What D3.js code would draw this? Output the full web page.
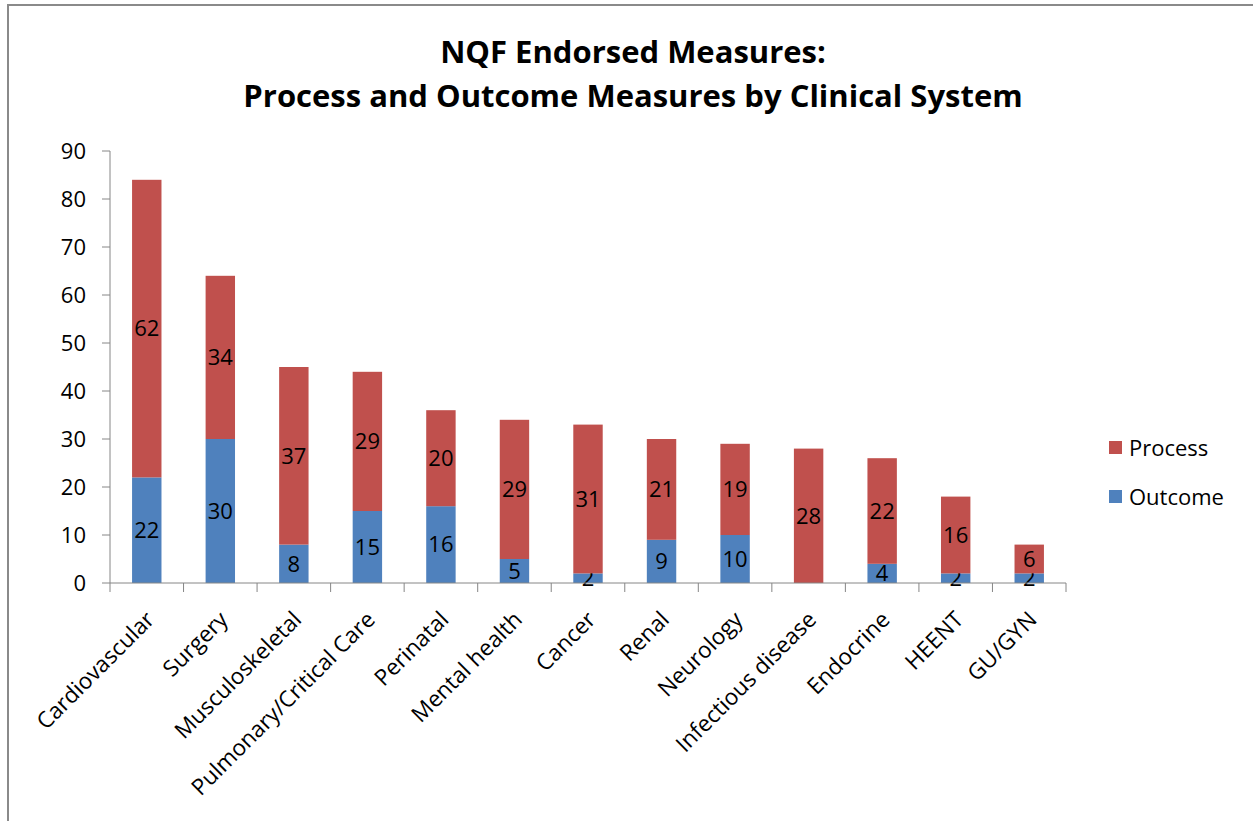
<!DOCTYPE html>
<html lang="en">
<head>
    <meta charset="UTF-8">
    <title>NQF Endorsed Measures</title>
    <script src="https://cdn.jsdelivr.net/npm/d3@7"></script>
    <style>
        body { margin: 0; background: #fff; }
        text { font-family: "Open Sans", sans-serif; fill: #000; }
        .title { font-size: 31px; font-weight: bold; }
        .tick-label { font-size: 22px; }
        .cat-label { font-size: 22.5px; }
        .value-label { font-size: 22px; }
        .legend-text { font-size: 22px; }
    </style>
</head>
<body>
    <svg width="1253" height="821" id="chart"></svg>
    <script>
        const categories = [
            "Cardiovascular", "Surgery", "Musculoskeletal", "Pulmonary/Critical Care",
            "Perinatal", "Mental health", "Cancer", "Renal", "Neurology",
            "Infectious disease", "Endocrine", "HEENT", "GU/GYN"
        ];
        const outcome = [22, 30, 8, 15, 16, 5, 2, 9, 10, 0, 4, 2, 2];
        const process = [62, 34, 37, 29, 20, 29, 31, 21, 19, 28, 22, 16, 6];
        const yTicks = [0, 10, 20, 30, 40, 50, 60, 70, 80, 90];
        const seriesNames = ["Outcome", "Process"];
        const colors = {Outcome: "#4f81bd", Process: "#c0504d"};

        const svg = d3.select("#chart");
        const margin = {left: 110, top: 151, right: 1066, bottom: 583};

        // outer frame (cut off on the right and bottom)
        svg.append("rect")
            .attr("x", 8).attr("y", 5)
            .attr("width", 1300).attr("height", 900)
            .attr("fill", "none")
            .attr("stroke", "#8a8a8a")
            .attr("stroke-width", 2);

        svg.append("text").attr("class", "title")
            .attr("x", 633).attr("y", 63)
            .attr("text-anchor", "middle")
            .text("NQF Endorsed Measures:");
        svg.append("text").attr("class", "title")
            .attr("x", 633).attr("y", 107)
            .attr("text-anchor", "middle")
            .text("Process and Outcome Measures by Clinical System");

        const x = d3.scaleBand()
            .domain(categories)
            .range([margin.left, margin.right])
            .paddingInner(0.6)
            .paddingOuter(0.3);
        const bandStep = x.step();

        const y = d3.scaleLinear()
            .domain([0, 90])
            .range([margin.bottom, margin.top]);

        const rows = categories.map((c, i) => ({cat: c, Outcome: outcome[i], Process: process[i]}));
        const stacked = d3.stack().keys(seriesNames)(rows);

        const layers = svg.append("g").selectAll("g")
            .data(stacked)
            .enter().append("g")
            .attr("fill", d => colors[d.key]);

        layers.selectAll("rect")
            .data(d => d)
            .enter().append("rect")
            .attr("x", d => x(d.data.cat))
            .attr("width", x.bandwidth())
            .attr("y", d => y(d[1]))
            .attr("height", d => y(d[0]) - y(d[1]));

        // axes
        const axisColor = "#868686";
        const yAxis = svg.append("g");
        yAxis.append("line")
            .attr("x1", margin.left).attr("x2", margin.left)
            .attr("y1", margin.top).attr("y2", margin.bottom)
            .attr("stroke", axisColor);
        yAxis.selectAll(".ytick")
            .data(yTicks)
            .enter().append("line")
            .attr("x1", margin.left - 8).attr("x2", margin.left)
            .attr("y1", d => y(d)).attr("y2", d => y(d))
            .attr("stroke", axisColor);
        yAxis.selectAll(".ylabel")
            .data(yTicks)
            .enter().append("text")
            .attr("class", "tick-label")
            .attr("x", 86)
            .attr("y", d => y(d))
            .attr("dy", "0.35em")
            .attr("text-anchor", "end")
            .text(d => d);

        const xAxis = svg.append("g");
        xAxis.append("line")
            .attr("x1", margin.left).attr("x2", margin.right)
            .attr("y1", margin.bottom).attr("y2", margin.bottom)
            .attr("stroke", axisColor);
        xAxis.selectAll(".xtick")
            .data(d3.range(categories.length + 1))
            .enter().append("line")
            .attr("x1", i => margin.left + i * bandStep)
            .attr("x2", i => margin.left + i * bandStep)
            .attr("y1", margin.bottom).attr("y2", margin.bottom + 9)
            .attr("stroke", axisColor);
        xAxis.selectAll(".xlabel")
            .data(categories)
            .enter().append("text")
            .attr("class", "cat-label")
            .attr("text-anchor", "end")
            .attr("transform", d => `translate(${x(d) + x.bandwidth() / 2 + 9}, 621) rotate(-45)`)
            .text(d => d);

        // value labels
        layers.selectAll(".value-label")
            .data(d => d.filter(s => s[1] - s[0] > 0))
            .enter().append("text")
            .attr("class", "value-label")
            .attr("x", d => x(d.data.cat) + x.bandwidth() / 2)
            .attr("y", d => (y(d[0]) + y(d[1])) / 2)
            .attr("dy", "0.35em")
            .attr("text-anchor", "middle")
            .text(d => d[1] - d[0]);

        // legend
        const legend = svg.selectAll(".legend")
            .data(["Process", "Outcome"])
            .enter().append("g")
            .attr("transform", (d, i) => `translate(1109, ${448 + i * 49})`);
        legend.append("rect")
            .attr("x", 0).attr("y", -7)
            .attr("width", 13).attr("height", 13)
            .attr("fill", d => colors[d]);
        legend.append("text")
            .attr("class", "legend-text")
            .attr("x", 20)
            .attr("dy", "0.35em")
            .text(d => d);
    </script>
</body>
</html>
